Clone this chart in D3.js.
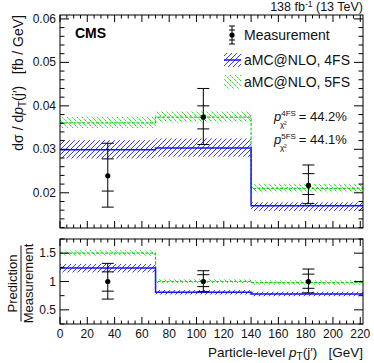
<!DOCTYPE html>
<html>
<head>
<meta charset="utf-8">
<script src="https://cdn.jsdelivr.net/npm/d3@7"></script>
<style>
  body { margin: 0; background: #fff; }
  text { font-family: "Liberation Sans", Arial, sans-serif; }
</style>
</head>
<body>
<svg id="chart"></svg>
<script>
// bins in pT(j') [GeV]
var binEdges = [0, 70, 140, 222];
var binCentres = [35, 105, 182];

// measured cross section [fb/GeV]
var measVal = [0.0239, 0.0374, 0.0217];
var measStatLo = [0.0204, 0.0347, 0.0196];
var measStatHi = [0.0278, 0.0400, 0.0244];
var measTotLo = [0.0167, 0.0311, 0.0175];
var measTotHi = [0.0314, 0.0440, 0.0264];

// predictions
var fs4Val = [0.0299, 0.0303, 0.0170];
var fs4Lo = [0.0279, 0.0283, 0.0158];
var fs4Hi = [0.0321, 0.0325, 0.0178];
var fs5Val = [0.0361, 0.0374, 0.0210];
var fs5Lo = [0.0349, 0.0362, 0.0201];
var fs5Hi = [0.0375, 0.0388, 0.0221];

// ratio prediction / measurement
var ratioStatLo = [0.83, 0.91, 0.88];
var ratioStatHi = [1.17, 1.12, 1.13];
var ratioTotLo = [0.69, 0.82, 0.80];
var ratioTotHi = [1.32, 1.19, 1.22];
var r4Val = [1.24, 0.81, 0.78];
var r4Lo = [1.16, 0.77, 0.74];
var r4Hi = [1.31, 0.85, 0.82];
var r5Val = [1.50, 1.00, 0.98];
var r5Lo = [1.46, 0.97, 0.94];
var r5Hi = [1.55, 1.04, 1.02];

var xTicks = [0, 20, 40, 60, 80, 100, 120, 140, 160, 180, 200, 220];
var yTopTicks = [0.02, 0.03, 0.04, 0.05, 0.06];
var yBotTicks = [0.5, 1, 1.5];

var W = 374, H = 363;
var svg = d3.select("#chart").attr("width", W).attr("height", H);

var left = 60, right = 363;
var top1 = 15, bot1 = 228, top2 = 239, bot2 = 324;

var x = d3.scaleLinear().domain([0, 222]).range([left, right]);
var y1 = d3.scaleLinear().domain([0.0119, 0.0609]).range([bot1, top1]);
var y2 = d3.scaleLinear().domain([0.25, 1.75]).range([bot2, top2]);

// hatch patterns
var defs = svg.append("defs");
function hatch(id, color, dir) {
  var p = defs.append("pattern")
    .attr("id", id)
    .attr("patternUnits", "userSpaceOnUse")
    .attr("width", 5).attr("height", 5);
  if (dir > 0) {
    p.append("path").attr("d", "M-1,1 l2,-2 M0,5 l5,-5 M4,6 l2,-2");
  } else {
    p.append("path").attr("d", "M-1,4 l2,2 M0,0 l5,5 M4,-1 l2,2");
  }
  p.select("path").attr("stroke", color).attr("stroke-width", 1)
    .attr("stroke-dasharray", dir > 0 ? null : "2,1");
}
hatch("blueHatch", "#3a3aff", 1);
hatch("greenHatch", "#22dd22", -1);

function stepPath(vals, yS) {
  var d = "";
  vals.forEach(function(v, i) {
    d += (i == 0 ? "M" : "L") + x(binEdges[i]) + "," + yS(v) + "L" + x(binEdges[i + 1]) + "," + yS(v);
  });
  return d;
}

function drawPanel(yS, topY, botY, lo4, hi4, v4, lo5, hi5, v5, tLo, tHi, sLo, sHi, mVal) {
  var g = svg.append("g");
  g.append("clipPath").attr("id", "clip" + topY)
    .append("rect").attr("x", left).attr("y", topY).attr("width", right - left).attr("height", botY - topY);
  var pg = g.append("g").attr("clip-path", "url(#clip" + topY + ")");

  // bands
  [0, 1, 2].forEach(function(i) {
    pg.append("rect")
      .attr("x", x(binEdges[i])).attr("width", x(binEdges[i + 1]) - x(binEdges[i]))
      .attr("y", yS(hi5[i])).attr("height", yS(lo5[i]) - yS(hi5[i]))
      .attr("fill", "url(#greenHatch)");
    pg.append("rect")
      .attr("x", x(binEdges[i])).attr("width", x(binEdges[i + 1]) - x(binEdges[i]))
      .attr("y", yS(hi4[i])).attr("height", yS(lo4[i]) - yS(hi4[i]))
      .attr("fill", "url(#blueHatch)");
  });
  pg.append("path").attr("d", stepPath(v5, yS))
    .attr("fill", "none").attr("stroke", "#22cc22").attr("stroke-width", 1.2)
    .attr("stroke-dasharray", "3,1.5");
  pg.append("path").attr("d", stepPath(v4, yS))
    .attr("fill", "none").attr("stroke", "#1515ff").attr("stroke-width", 1.5);

  // measurement
  binCentres.forEach(function(c, i) {
    var cx = x(c);
    pg.append("line").attr("x1", cx).attr("x2", cx).attr("y1", yS(tLo[i])).attr("y2", yS(tHi[i]))
      .attr("stroke", "#000").attr("stroke-width", 1);
    [tLo[i], tHi[i], sLo[i], sHi[i]].forEach(function(v) {
      pg.append("line").attr("x1", cx - 6).attr("x2", cx + 6).attr("y1", yS(v)).attr("y2", yS(v))
        .attr("stroke", "#000").attr("stroke-width", 1);
    });
    pg.append("circle").attr("cx", cx).attr("cy", yS(mVal[i])).attr("r", 2.6).attr("fill", "#000");
  });

  // frame
  g.append("rect").attr("x", left).attr("y", topY).attr("width", right - left).attr("height", botY - topY)
    .attr("fill", "none").attr("stroke", "#000").attr("stroke-width", 1);

  // x ticks, inside on bottom and top
  var xMinor = d3.range(0, 223, 5);
  xMinor.forEach(function(t) {
    var len = (t % 20 == 0) ? 7 : 3.5;
    g.append("line").attr("x1", x(t)).attr("x2", x(t)).attr("y1", botY).attr("y2", botY - len).attr("stroke", "#000");
    g.append("line").attr("x1", x(t)).attr("x2", x(t)).attr("y1", topY).attr("y2", topY + len).attr("stroke", "#000");
  });
}

drawPanel(y1, top1, bot1, fs4Lo, fs4Hi, fs4Val, fs5Lo, fs5Hi, fs5Val,
  measTotLo, measTotHi, measStatLo, measStatHi, measVal);
drawPanel(y2, top2, bot2, r4Lo, r4Hi, r4Val, r5Lo, r5Hi, r5Val,
  ratioTotLo, ratioTotHi, ratioStatLo, ratioStatHi, [1, 1, 1]);

// y axes with inside ticks (left and right)
function yTicks(yS, minorStep, majors, topY, botY, fmt) {
  var dom = yS.domain();
  var start = Math.ceil(dom[0] / minorStep - 1e-6) * minorStep;
  for (var v = start; v <= dom[1] + 1e-9; v += minorStep) {
    var isMajor = majors.some(function(m) { return Math.abs(m - v) < minorStep / 10; });
    var len = isMajor ? 9 : 4.5;
    svg.append("line").attr("x1", left).attr("x2", left + len).attr("y1", yS(v)).attr("y2", yS(v)).attr("stroke", "#000");
    svg.append("line").attr("x1", right).attr("x2", right - len).attr("y1", yS(v)).attr("y2", yS(v)).attr("stroke", "#000");
  }
  majors.forEach(function(m) {
    svg.append("text").attr("x", left - 4).attr("y", yS(m) + 4)
      .attr("text-anchor", "end").attr("font-size", 12).attr("fill", "#111").text(fmt(m));
  });
}
yTicks(y1, 0.002, yTopTicks, top1, bot1, d3.format(".2f"));
yTicks(y2, 0.25, yBotTicks, top2, bot2, function(d) { return d; });

// x tick labels
svg.selectAll(".xlab").data(xTicks).enter().append("text")
  .attr("x", d => x(d)).attr("y", bot2 + 14)
  .attr("text-anchor", "middle").attr("font-size", 12).attr("fill", "#111")
  .text(d => d);

// x axis title
var xt = svg.append("text").attr("x", right).attr("y", 357).attr("text-anchor", "end")
  .attr("font-size", 13.5).attr("fill", "#111");
xt.append("tspan").text("Particle-level ");
xt.append("tspan").attr("font-style", "italic").text("p");
xt.append("tspan").attr("font-size", 10).attr("dy", 3).text("T");
xt.append("tspan").attr("dy", -3).text("(j\u2032)\u00A0\u00A0 [GeV]");

// y axis title (top)
var yt = svg.append("text").attr("transform", "translate(23," + top1 + ") rotate(-90)")
  .attr("text-anchor", "end").attr("font-size", 14).attr("fill", "#111");
yt.append("tspan").text("d\u03C3 / d");
yt.append("tspan").attr("font-style", "italic").text("p");
yt.append("tspan").attr("font-size", 10).attr("dy", 3).text("T");
yt.append("tspan").attr("dy", -3).text("(j\u2032)\u00A0\u00A0 [fb / GeV]");

// ratio title
var ry = (top2 + bot2) / 2 + 2;
svg.append("text").attr("transform", "translate(17," + ry + ") rotate(-90)")
  .attr("text-anchor", "middle").attr("font-size", 13).attr("fill", "#111").text("Prediction");
svg.append("line").attr("x1", 21).attr("x2", 21).attr("y1", ry - 38).attr("y2", ry + 38)
  .attr("stroke", "#111").attr("stroke-width", 1);
svg.append("text").attr("transform", "translate(33," + ry + ") rotate(-90)")
  .attr("text-anchor", "middle").attr("font-size", 13).attr("fill", "#111").text("Measurement");

// header texts
svg.append("text").attr("x", 75).attr("y", 38).attr("font-size", 14).attr("font-weight", "bold").text("CMS");
var lum = svg.append("text").attr("x", right).attr("y", 11).attr("text-anchor", "end")
  .attr("font-size", 12.5).attr("fill", "#111");
lum.append("tspan").text("138 fb");
lum.append("tspan").attr("font-size", 8.5).attr("dy", -4).text("-1");
lum.append("tspan").attr("dy", 4).text(" (13 TeV)");

// legend
var lg = svg.append("g");
var lx = 224;
lg.append("line").attr("x1", lx + 8).attr("x2", lx + 8).attr("y1", 26).attr("y2", 44).attr("stroke", "#000");
[26, 30, 40, 44].forEach(function(v) {
  lg.append("line").attr("x1", lx + 5).attr("x2", lx + 11).attr("y1", v).attr("y2", v).attr("stroke", "#000");
});
lg.append("circle").attr("cx", lx + 8).attr("cy", 35).attr("r", 2.6).attr("fill", "#000");
lg.append("text").attr("x", lx + 20).attr("y", 40).attr("font-size", 14).attr("fill", "#111").text("Measurement");

lg.append("rect").attr("x", lx).attr("y", 53).attr("width", 17).attr("height", 14).attr("fill", "url(#blueHatch)");
lg.append("line").attr("x1", lx).attr("x2", lx + 17).attr("y1", 60).attr("y2", 60).attr("stroke", "#1515ff").attr("stroke-width", 1.5);
lg.append("text").attr("x", lx + 20).attr("y", 65).attr("font-size", 14).attr("fill", "#111").text("aMC@NLO, 4FS");

lg.append("rect").attr("x", lx).attr("y", 75).attr("width", 17).attr("height", 14).attr("fill", "url(#greenHatch)");
lg.append("text").attr("x", lx + 20).attr("y", 87).attr("font-size", 14).attr("fill", "#111").text("aMC@NLO, 5FS");

function pChi(yPos, sup, val) {
  var t = svg.append("text").attr("x", 274).attr("y", yPos).attr("font-size", 13).attr("fill", "#111");
  t.append("tspan").attr("font-style", "italic").text("p");
  t.append("tspan").attr("font-size", 8).attr("dy", -5).text(sup);
  t.append("tspan").attr("font-size", 8).attr("dx", -16).attr("dy", 11).text("\u03C7\u00B2");
  t.append("tspan").attr("dx", 12).attr("dy", -6).text("= " + val);
}
pChi(121, "4FS", "44.2%");
pChi(144, "5FS", "44.1%");
</script>
</body>
</html>
